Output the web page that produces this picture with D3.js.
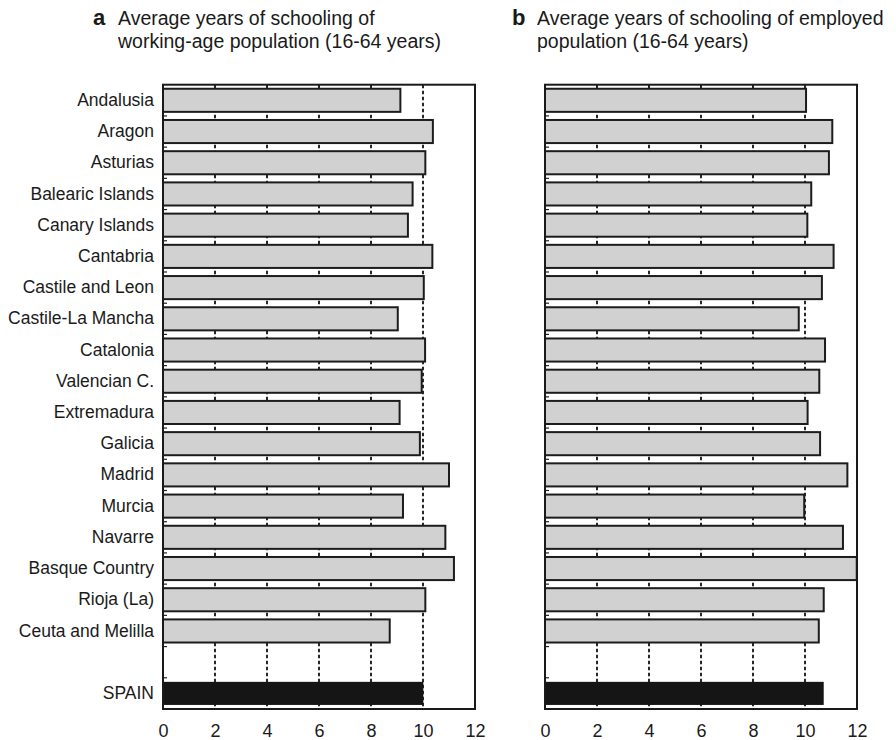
<!DOCTYPE html>
<html>
<head>
<meta charset="utf-8">
<script src="https://cdn.jsdelivr.net/npm/d3@7"></script>
<style>
  body { margin: 0; background: #fff; }
  svg { display: block; font-family: "Liberation Sans", Arial, Helvetica, sans-serif; }
</style>
</head>
<body>
<svg id="chart" width="896" height="740"></svg>
<script>
// regions, top to bottom (blank row before SPAIN)
const regions = [
  'Andalusia', 'Aragon', 'Asturias', 'Balearic Islands', 'Canary Islands',
  'Cantabria', 'Castile and Leon', 'Castile-La Mancha', 'Catalonia', 'Valencian C.',
  'Extremadura', 'Galicia', 'Madrid', 'Murcia', 'Navarre',
  'Basque Country', 'Rioja (La)', 'Ceuta and Melilla',
]
const totalLabel = 'SPAIN'

// a: working-age population (16-64)
const workingAge = [
  9.13, 10.38, 10.09, 9.60, 9.42,
  10.36, 10.03, 9.03, 10.08, 9.95,
  9.10, 9.88, 11.00, 9.23, 10.86,
  11.19, 10.09, 8.72,
]
const workingAgeSpain = 10.01

// b: employed population (16-64)
const employed = [
  10.04, 11.05, 10.92, 10.24, 10.09,
  11.10, 10.65, 9.76, 10.77, 10.55,
  10.10, 10.58, 11.63, 9.97, 11.46,
  11.99, 10.72, 10.53,
]
const employedSpain = 10.72

const xTicks = [0, 2, 4, 6, 8, 10, 12]

const svg = d3.select('#chart')
const plotTop = 84.7
const plotBottom = 709
const rows = regions.concat(['', totalLabel])

const y = d3.scaleBand()
  .domain(rows)
  .range([plotTop, plotBottom])
  .paddingInner(0.26)
  .paddingOuter(0.13)

function drawPanel(left, right, values, totalValue, letter, titleLines, letterX, textX, showLabels) {
  const x = d3.scaleLinear().domain([0, 12]).range([left, right])
  const g = svg.append('g')
  const data = regions.map((r, i) => ({ name: r, value: values[i], total: false }))
    .concat([{ name: totalLabel, value: totalValue, total: true }])

  // dashed grid
  g.selectAll('.grid')
    .data(xTicks.filter(t => t > 0 && t < 12))
    .enter()
    .append('line')
    .attr('x1', d => x(d))
    .attr('x2', d => x(d))
    .attr('y1', plotTop)
    .attr('y2', plotBottom)
    .attr('stroke', '#111')
    .attr('stroke-width', 1.8)
    .attr('stroke-dasharray', '3.5,2.5')

  // left inner ticks at band boundaries
  g.selectAll('.ytick')
    .data(rows.slice(1))
    .enter()
    .append('line')
    .attr('x1', left)
    .attr('x2', left + 4)
    .attr('y1', d => y(d) - y.step() * y.paddingInner() / 2)
    .attr('y2', d => y(d) - y.step() * y.paddingInner() / 2)
    .attr('stroke', '#222')
    .attr('stroke-width', 1.2)

  g.selectAll('.bar')
    .data(data)
    .enter()
    .append('rect')
    .attr('x', x(0))
    .attr('y', d => y(d.name))
    .attr('width', d => x(d.value) - x(0))
    .attr('height', y.bandwidth())
    .attr('fill', d => d.total ? '#151515' : '#d0d1d0')
    .attr('stroke', d => d.total ? 'none' : '#1c1c1c')
    .attr('stroke-width', 2)

  // frame
  g.append('rect')
    .attr('x', left)
    .attr('y', plotTop)
    .attr('width', right - left)
    .attr('height', plotBottom - plotTop)
    .attr('fill', 'none')
    .attr('stroke', '#1a1a1a')
    .attr('stroke-width', 2)

  const xAxis = g.append('g')
    .attr('transform', `translate(0,${plotBottom})`)
    .call(d3.axisBottom(x).tickValues(xTicks).tickSize(0).tickPadding(15))
  xAxis.select('.domain').remove()
  xAxis.selectAll('text')
    .attr('font-size', '18px')
    .attr('font-family', '"Liberation Sans", Arial, sans-serif')
    .attr('fill', '#1a1a1a')

  if (showLabels) {
    const yAxis = g.append('g')
      .attr('transform', `translate(${left},0)`)
      .call(d3.axisLeft(y).tickSize(0).tickPadding(9))
    yAxis.select('.domain').remove()
    yAxis.selectAll('text')
      .attr('font-size', '17.5px')
      .attr('font-family', '"Liberation Sans", Arial, sans-serif')
      .attr('fill', '#1a1a1a')
  }

  // title
  svg.append('text')
    .attr('x', letterX)
    .attr('y', 25)
    .attr('font-size', '22px')
    .attr('font-weight', 'bold')
    .attr('fill', '#1a1a1a')
    .text(letter)
  svg.append('g')
    .selectAll('text')
    .data(titleLines)
    .enter()
    .append('text')
    .attr('x', textX)
    .attr('y', (d, i) => 25 + i * 23)
    .attr('font-size', '19.5px')
    .attr('fill', '#1a1a1a')
    .text(d => d)
}

drawPanel(163, 475, workingAge, workingAgeSpain, 'a',
  ['Average years of schooling of', 'working-age population (16-64 years)'], 93, 118, true)
drawPanel(545, 857, employed, employedSpain, 'b',
  ['Average years of schooling of employed', 'population (16-64 years)'], 512, 537, false)
</script>
</body>
</html>
